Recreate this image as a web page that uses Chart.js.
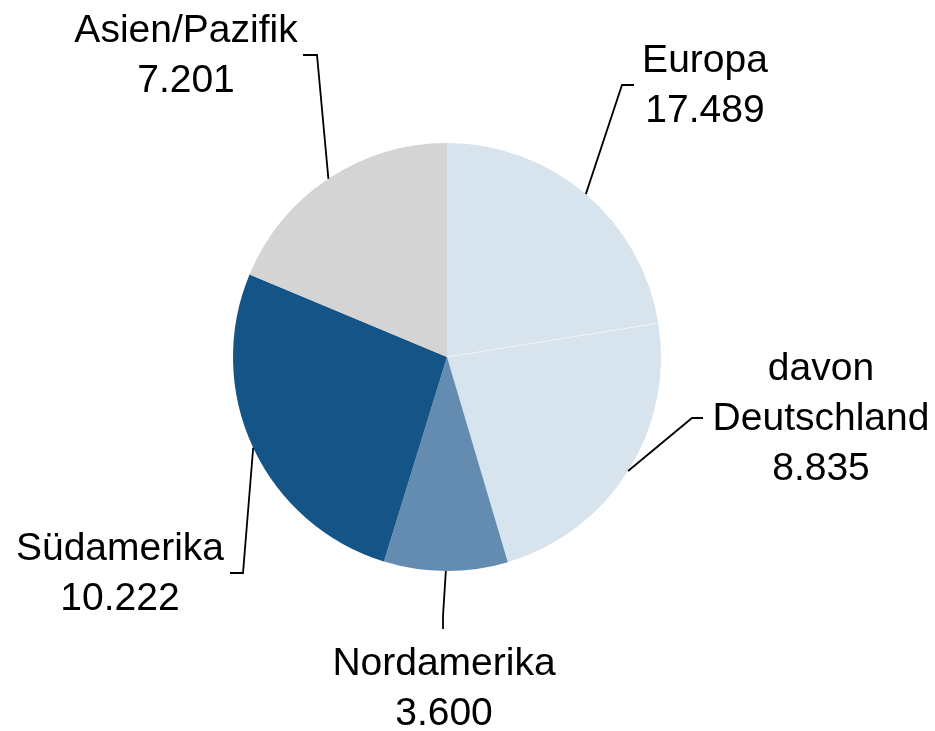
<!DOCTYPE html>
<html>
<head>
<meta charset="utf-8">
<script src="https://cdn.jsdelivr.net/npm/chart.js@4/dist/chart.umd.min.js"></script>
<style>
  html, body { margin: 0; padding: 0; background: #ffffff; }
  #wrap { width: 935px; height: 731px; position: relative; }
</style>
</head>
<body>
<div id="wrap"><canvas id="c" width="935" height="731"></canvas></div>
<script>
// ---- data ----
const categories = ["Europa", "davon Deutschland", "Nordamerika", "Südamerika", "Asien/Pazifik"];
// label values (thousands, as printed)
const labelValues = [17.489, 8.835, 3.600, 10.222, 7.201];
// slice values: Europa slice shows Europa without Deutschland
const sliceValues = [17.489 - 8.835, 8.835, 3.600, 10.222, 7.201];
const labelLines = [["Europa"], ["davon", "Deutschland"], ["Nordamerika"], ["Südamerika"], ["Asien/Pazifik"]];

// ---- style / layout ----
const colors = ["#d7e3ed", "#d7e3ed", "#648bb0", "#145487", "#d4d4d4"];
// label placement relative to pie centre: text centre x, first baseline y, elbow, line end
const labelLayout = [
  { tx: 258, ty: -285, elbow: [175, -272], end: [187, -272] },
  { tx: 374, ty: 23,   elbow: [245, 61],   end: [256, 61] },
  { tx: -3,  ty: 318,  elbow: [-4, 259],   end: [-4, 272] },
  { tx: -327, ty: 203, elbow: [-204, 216], end: [-217, 216] },
  { tx: -261, ty: -315, elbow: [-130, -302], end: [-144, -302] }
];
const FONT = '39px "Liberation Sans", Arial, sans-serif';
const LINE_H = 50;

const labelPlugin = {
  id: 'leaderLabels',
  afterDatasetsDraw(chart) {
    const ctx = chart.ctx;
    const meta = chart.getDatasetMeta(0);
    ctx.save();
    // faint separator between Europa and Deutschland
    const a0 = meta.data[0];
    ctx.strokeStyle = 'rgba(255,255,255,0.5)';
    ctx.lineWidth = 1;
    ctx.beginPath();
    ctx.moveTo(a0.x, a0.y);
    ctx.lineTo(a0.x + Math.cos(a0.endAngle) * a0.outerRadius, a0.y + Math.sin(a0.endAngle) * a0.outerRadius);
    ctx.stroke();

    meta.data.forEach((arc, i) => {
      const L = labelLayout[i];
      const cx = arc.x, cy = arc.y;
      const mid = (arc.startAngle + arc.endAngle) / 2;
      const r = arc.outerRadius;
      const sx = cx + Math.cos(mid) * r, sy = cy + Math.sin(mid) * r;
      ctx.strokeStyle = '#000';
      ctx.lineWidth = 1.8;
      ctx.beginPath();
      ctx.moveTo(sx, sy);
      ctx.lineTo(cx + L.elbow[0], cy + L.elbow[1]);
      ctx.lineTo(cx + L.end[0], cy + L.end[1]);
      ctx.stroke();

      ctx.fillStyle = '#000';
      ctx.font = FONT;
      ctx.textAlign = 'center';
      ctx.textBaseline = 'alphabetic';
      const lines = labelLines[i].concat([labelValues[i].toFixed(3)]);
      lines.forEach((t, k) => {
        ctx.fillText(t, cx + L.tx, cy + L.ty + k * LINE_H);
      });
    });
    ctx.restore();
  }
};

new Chart(document.getElementById('c'), {
  type: 'pie',
  data: {
    labels: categories,
    datasets: [{
      data: sliceValues,
      backgroundColor: colors,
      borderWidth: 0,
      hoverOffset: 0
    }]
  },
  options: {
    responsive: false,
    animation: false,
    layout: { padding: { top: 143, bottom: 160, left: 233, right: 274 } },
    plugins: { legend: { display: false }, tooltip: { enabled: false } }
  },
  plugins: [labelPlugin]
});
</script>
</body>
</html>
